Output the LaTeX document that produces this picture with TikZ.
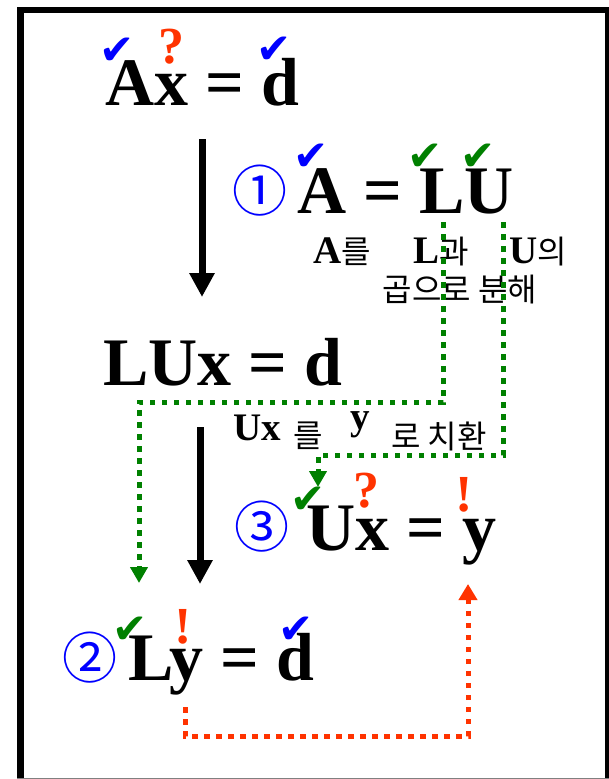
\documentclass[tikz,border=0pt]{standalone}
\usepackage{fontspec}
\setmainfont{Liberation Serif}
\newfontfamily\krfont{Noto Sans CJK KR}
\newfontfamily\symfont{DejaVu Sans}
\usepackage{tikz}
\usetikzlibrary{positioning,arrows.meta}
\definecolor{ckblue}{RGB}{0,0,255}
\definecolor{ckgreen}{RGB}{0,128,0}
\definecolor{ckred}{RGB}{255,51,0}
\newcommand{\eqsize}{\fontsize{68}{76}\selectfont\bfseries}
\newcommand{\hintsize}{\fontsize{39}{44}\selectfont\bfseries}
\newcommand{\kr}[1]{{\krfont\mdseries\fontsize{32}{36}\selectfont #1}}

\begin{document}
\begin{tikzpicture}[x=1pt,y=-1pt,inner sep=0pt,
  bigeq/.style={anchor=base west,font=\eqsize},
  chk/.style={font=\symfont\fontsize{42}{44}\selectfont},
  qmark/.style={text=ckred,font=\fontsize{52}{54}\selectfont\bfseries},
  circnum/.style={text=ckblue,font=\krfont\fontsize{55}{58}\selectfont},
  hint/.style={anchor=base west,font=\hintsize},
  greendot/.style={ckgreen,line width=5pt,dash pattern=on 5.5pt off 6.5pt,
    -{Triangle[width=17pt,length=16pt]}},
  reddot/.style={ckred,line width=5pt,dash pattern=on 5.5pt off 6.5pt,
    -{Triangle[width=18pt,length=16pt]}},
  blackarr/.style={line width=7pt,-{Triangle[width=24pt,length=24pt]}}]
  \useasboundingbox (0,0) rectangle (609,779);
  \clip (0,0) rectangle (609,779);
  % frame
  \draw[line width=6.5pt] (20.5,790) |- (608,10) -- (608,790);
  \draw[gray,line width=1.5pt] (17,778.3) -- (609,778.3);

  % equations
  \node[bigeq] (eqAx)  at (105,105) {Ax = d};
  \node[bigeq] (eqALU) at (297,213) {A = LU};
  \node[bigeq] (eqLUx) at (103,385) {LUx = d};
  \node[bigeq] (eqUx)  at (306,550) {Ux = y};
  \node[bigeq] (eqLy)  at (128,680) {Ly = d};

  % step numbers
  \node[circnum] (numOne)   at (260,191) {①};
  \node[circnum] (numTwo)   at (90,658)  {②};
  \node[circnum] (numThree) at (262,527) {③};

  % marks: known / unknown / found
  \node[chk,text=ckblue]  (chkAxA) at (117,51) {✔};
  \node[qmark]            (qAxx)   at (171,47) {?};
  \node[chk,text=ckblue]  (chkAxd) at (274,50) {✔};
  \node[chk,text=ckblue]  (chkA)   at (311,157) {✔};
  \node[chk,text=ckgreen] (chkL)   at (425,157) {✔};
  \node[chk,text=ckgreen] (chkU)   at (478,157) {✔};
  \node[chk,text=ckgreen] (chkUxU) at (308,500) {✔};
  \node[qmark]            (qUxx)   at (366,491) {?};
  \node[qmark]            (bangUy) at (464,495) {!};
  \node[chk,text=ckgreen] (chkLyL) at (130,630) {✔};
  \node[qmark]            (bangLy) at (183,627) {!};
  \node[chk,text=ckblue]  (chkLyd) at (296,630) {✔};

  % notes
  \node[hint] (noteA) at (313,263) {A\kr{를}};
  \node[hint] (noteL) at (413,263) {L\kr{과}};
  \node[hint] (noteU) at (509,263) {U\kr{의}};
  \node (noteSplit) at (460,290) {\kr{곱으로 분해}};
  \node[hint] (noteUx) at (233,440) {Ux};
  \node (noteUxKr) at (308,436) {\kr{를}};
  \node[hint] (noteY) at (350,429) {y};
  \node (noteSub) at (439,436) {\kr{로 치환}};

  % main flow
  \coordinate (arrOneTop) at (202,139);
  \coordinate (arrOneTip) at (202,297);
  \coordinate (arrTwoTop) at (200,427);
  \coordinate (arrTwoTip) at (200,584);
  \draw[blackarr] (arrOneTop) -- (arrOneTip);
  \draw[blackarr] (arrTwoTop) -- (arrTwoTip);

  % L and U carried down
  \coordinate (footL) at (443,222);
  \coordinate (turnL) at (139,402);
  \coordinate (tipL)  at (139,583);
  \coordinate (footU) at (503,222);
  \coordinate (turnU) at (318,455);
  \coordinate (tipU)  at (318,487);
  \draw[greendot] (footL) |- (turnL) -- (tipL);
  \draw[greendot] (footU) |- (turnU) -- (tipU);

  % y goes back up
  \coordinate (footY) at (185,707);
  \coordinate (baseY) at (468,736);
  \coordinate (tipY)  at (468,584);
  \draw[reddot] (footY) |- (baseY) -- (tipY);
\end{tikzpicture}
\end{document}
